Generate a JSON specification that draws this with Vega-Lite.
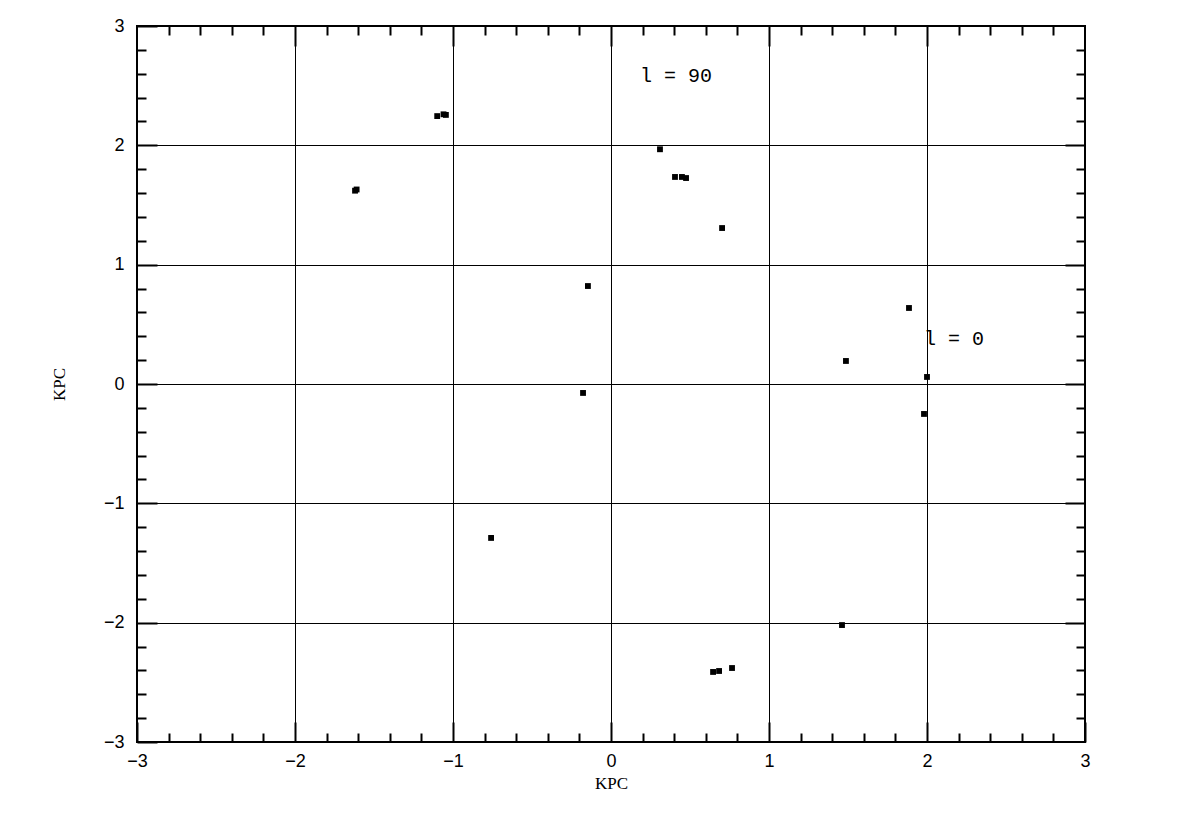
{
  "$schema": "https://vega.github.io/schema/vega-lite/v6.json",
  "width": 948,
  "height": 716,
  "autosize": {"type": "none"},
  "padding": {"left": 137, "top": 26, "right": 115, "bottom": 76},
  "background": "white",
  "config": {
    "view": {"stroke": "black", "strokeWidth": 2},
    "axis": {"domain": false, "grid": false, "tickColor": "black", "labelColor": "black", "titleColor": "black", "tickWidth": 2}
  },
  "datasets": {
    "stars": [
      {"x": -1.62, "y": 1.62}, {"x": -1.61, "y": 1.63},
      {"x": -1.10, "y": 2.245}, {"x": -1.06, "y": 2.26}, {"x": -1.045, "y": 2.255},
      {"x": -0.146, "y": 0.821},
      {"x": -0.177, "y": -0.075},
      {"x": -0.759, "y": -1.29},
      {"x": 0.31, "y": 1.967},
      {"x": 0.405, "y": 1.735}, {"x": 0.449, "y": 1.735}, {"x": 0.475, "y": 1.726},
      {"x": 0.703, "y": 1.307},
      {"x": 1.487, "y": 0.193},
      {"x": 1.886, "y": 0.637},
      {"x": 2.0, "y": 0.059},
      {"x": 1.981, "y": -0.251},
      {"x": 1.462, "y": -2.02},
      {"x": 0.646, "y": -2.413}, {"x": 0.684, "y": -2.405}, {"x": 0.766, "y": -2.38}
    ],
    "notes": [
      {"x": 0.184, "y": 2.531, "label": "l = 90"},
      {"x": 1.981, "y": 0.327, "label": "l = 0"}
    ]
  },
  "layer": [
    {
      "data": {"name": "stars"},
      "mark": {"type": "point", "opacity": 0},
      "encoding": {
        "x": {"field": "x", "type": "quantitative", "scale": {"domain": [-3, 3], "nice": false, "zero": false},
          "axis": {"orient": "bottom", "values": [-3, -2, -1, 0, 1, 2, 3], "grid": true, "gridColor": "black", "gridWidth": 1, "gridOpacity": 1,
            "tickSize": -20, "labelPadding": 30, "labelFont": "Liberation Sans", "labelFontSize": 18, "labelFlush": false,
            "title": "KPC", "titleFont": "Liberation Serif", "titleFontSize": 17, "titleFontWeight": "normal", "titlePadding": 5}},
        "y": {"field": "y", "type": "quantitative", "scale": {"domain": [-3, 3], "nice": false, "zero": false},
          "axis": {"orient": "left", "values": [-3, -2, -1, 0, 1, 2, 3], "grid": true, "gridColor": "black", "gridWidth": 1, "gridOpacity": 1,
            "tickSize": -20, "labelPadding": 33, "labelFont": "Liberation Sans", "labelFontSize": 18, "labelFlush": false,
            "title": "KPC", "titleFont": "Liberation Serif", "titleFontSize": 17, "titleFontWeight": "normal", "titlePadding": 35}}
      }
    },
    {
      "data": {"name": "stars"},
      "mark": {"type": "point", "opacity": 0},
      "encoding": {
        "x": {"field": "x", "type": "quantitative", "scale": {"domain": [-3, 3], "nice": false, "zero": false},
          "axis": {"orient": "bottom", "values": [-2.8, -2.6, -2.4, -2.2, -1.8, -1.6, -1.4, -1.2, -0.8, -0.6, -0.4, -0.2, 0.2, 0.4, 0.6, 0.8, 1.2, 1.4, 1.6, 1.8, 2.2, 2.4, 2.6, 2.8],
            "tickSize": -9, "labels": false, "title": null}},
        "y": {"field": "y", "type": "quantitative", "scale": {"domain": [-3, 3], "nice": false, "zero": false},
          "axis": {"orient": "left", "values": [-2.8, -2.6, -2.4, -2.2, -1.8, -1.6, -1.4, -1.2, -0.8, -0.6, -0.4, -0.2, 0.2, 0.4, 0.6, 0.8, 1.2, 1.4, 1.6, 1.8, 2.2, 2.4, 2.6, 2.8],
            "tickSize": -9, "labels": false, "title": null}}
      }
    },
    {
      "data": {"name": "stars"},
      "mark": {"type": "point", "opacity": 0},
      "encoding": {
        "x": {"field": "x", "type": "quantitative", "scale": {"domain": [-3, 3], "nice": false, "zero": false},
          "axis": {"orient": "top", "values": [-2.8, -2.6, -2.4, -2.2, -1.8, -1.6, -1.4, -1.2, -0.8, -0.6, -0.4, -0.2, 0.2, 0.4, 0.6, 0.8, 1.2, 1.4, 1.6, 1.8, 2.2, 2.4, 2.6, 2.8],
            "tickSize": -9, "labels": false, "title": null}},
        "y": {"field": "y", "type": "quantitative", "scale": {"domain": [-3, 3], "nice": false, "zero": false},
          "axis": {"orient": "right", "values": [-2.8, -2.6, -2.4, -2.2, -1.8, -1.6, -1.4, -1.2, -0.8, -0.6, -0.4, -0.2, 0.2, 0.4, 0.6, 0.8, 1.2, 1.4, 1.6, 1.8, 2.2, 2.4, 2.6, 2.8],
            "tickSize": -9, "labels": false, "title": null}}
      }
    },
    {
      "data": {"name": "stars"},
      "mark": {"type": "point", "opacity": 0},
      "encoding": {
        "x": {"field": "x", "type": "quantitative", "scale": {"domain": [-3, 3], "nice": false, "zero": false},
          "axis": {"orient": "top", "values": [-2, -1, 0, 1, 2], "tickSize": -20, "labels": false, "title": null}},
        "y": {"field": "y", "type": "quantitative", "scale": {"domain": [-3, 3], "nice": false, "zero": false},
          "axis": {"orient": "right", "values": [-2, -1, 0, 1, 2], "tickSize": -20, "labels": false, "title": null}}
      }
    },
    {
      "mark": {"type": "rule", "color": "black", "strokeWidth": 1.8},
      "encoding": {"y": {"datum": 0, "type": "quantitative", "axis": null}}
    },
    {
      "mark": {"type": "rule", "color": "black", "strokeWidth": 1.8},
      "encoding": {"x": {"datum": 0, "type": "quantitative", "axis": null}}
    },
    {
      "data": {"name": "stars"},
      "mark": {"type": "square", "filled": true, "color": "black", "size": 34, "opacity": 1},
      "encoding": {
        "x": {"field": "x", "type": "quantitative", "axis": null},
        "y": {"field": "y", "type": "quantitative", "axis": null}
      }
    },
    {
      "data": {"name": "notes"},
      "mark": {"type": "text", "align": "left", "baseline": "alphabetic", "font": "Liberation Mono", "fontSize": 20, "color": "black"},
      "encoding": {
        "x": {"field": "x", "type": "quantitative", "axis": null},
        "y": {"field": "y", "type": "quantitative", "axis": null},
        "text": {"field": "label"}
      }
    }
  ],
  "resolve": {"axis": {"x": "independent", "y": "independent"}}
}
